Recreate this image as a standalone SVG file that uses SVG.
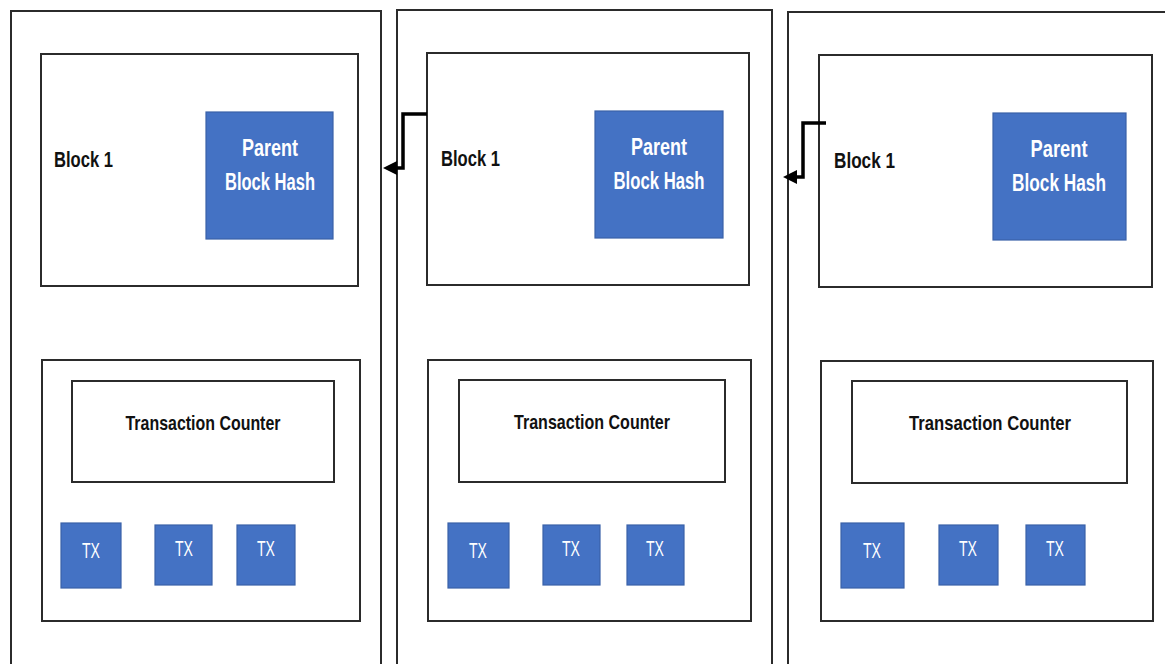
<svg xmlns="http://www.w3.org/2000/svg" width="1165" height="664" viewBox="0 0 1165 664">
<style>
.frame{fill:#fff;stroke:#2b2b2b;stroke-width:2}
.blue{fill:#4472C4;stroke:#3a62a8;stroke-width:1.2}
.lbl{font-family:"Liberation Sans",Arial,sans-serif;font-weight:bold;font-size:22px;fill:#111}
.cnt{font-family:"Liberation Sans",Arial,sans-serif;font-weight:bold;font-size:21px;fill:#111;text-anchor:middle}
.wl{font-family:"Liberation Sans",Arial,sans-serif;font-weight:bold;font-size:23px;fill:#fff;text-anchor:middle}
.tx{font-family:"Liberation Sans",Arial,sans-serif;font-size:22px;fill:#fff;text-anchor:middle}
.conn{fill:none;stroke:#000;stroke-width:3.5}
</style>
<rect width="1165" height="664" fill="#fff"/>

<g id="column1">
<rect class="frame" x="11" y="11" width="370" height="670"/>
<g id="header1">
<rect class="frame" x="41" y="54" width="317" height="232"/>
<text class="lbl" x="54" y="167" textLength="59" lengthAdjust="spacingAndGlyphs">Block 1</text>
</g>
<g id="parent1">
<rect class="blue" x="206" y="112" width="127" height="127"/>
<text class="wl" x="270" y="156" textLength="56" lengthAdjust="spacingAndGlyphs">Parent</text>
<text class="wl" x="270" y="190" textLength="90" lengthAdjust="spacingAndGlyphs">Block Hash</text>
</g>
<g id="body1">
<rect class="frame" x="42" y="360" width="318" height="261"/>
</g>
<g id="counter1">
<rect class="frame" x="72" y="381" width="262" height="101"/>
<text class="cnt" x="203" y="430" textLength="155" lengthAdjust="spacingAndGlyphs">Transaction Counter</text>
</g>
<g id="tx1a"><rect class="blue" x="61" y="523" width="60" height="65"/><text class="tx" x="91" y="558" textLength="18" lengthAdjust="spacingAndGlyphs">TX</text></g>
<g id="tx1b"><rect class="blue" x="155" y="525" width="57" height="60"/><text class="tx" x="184" y="556" textLength="18" lengthAdjust="spacingAndGlyphs">TX</text></g>
<g id="tx1c"><rect class="blue" x="237" y="525" width="58" height="60"/><text class="tx" x="266" y="556" textLength="18" lengthAdjust="spacingAndGlyphs">TX</text></g>
</g>

<g id="column2">
<rect class="frame" x="397" y="10" width="375" height="670"/>
<g id="header2">
<rect class="frame" x="427" y="53" width="322" height="232"/>
<text class="lbl" x="441" y="166" textLength="59" lengthAdjust="spacingAndGlyphs">Block 1</text>
</g>
<g id="parent2">
<rect class="blue" x="595" y="111" width="128" height="127"/>
<text class="wl" x="659" y="155" textLength="56" lengthAdjust="spacingAndGlyphs">Parent</text>
<text class="wl" x="659" y="189" textLength="91" lengthAdjust="spacingAndGlyphs">Block Hash</text>
</g>
<g id="body2">
<rect class="frame" x="428" y="360" width="323" height="261"/>
</g>
<g id="counter2">
<rect class="frame" x="459" y="380" width="266" height="102"/>
<text class="cnt" x="592" y="429" textLength="156" lengthAdjust="spacingAndGlyphs">Transaction Counter</text>
</g>
<g id="tx2a"><rect class="blue" x="448" y="523" width="61" height="65"/><text class="tx" x="478" y="558" textLength="18" lengthAdjust="spacingAndGlyphs">TX</text></g>
<g id="tx2b"><rect class="blue" x="543" y="525" width="57" height="60"/><text class="tx" x="571" y="556" textLength="18" lengthAdjust="spacingAndGlyphs">TX</text></g>
<g id="tx2c"><rect class="blue" x="627" y="525" width="57" height="60"/><text class="tx" x="655" y="556" textLength="18" lengthAdjust="spacingAndGlyphs">TX</text></g>
</g>

<g id="column3">
<rect class="frame" x="788" y="12" width="400" height="670"/>
<g id="header3">
<rect class="frame" x="819" y="55" width="333" height="232"/>
<text class="lbl" x="834" y="168" textLength="61" lengthAdjust="spacingAndGlyphs">Block 1</text>
</g>
<g id="parent3">
<rect class="blue" x="993" y="113" width="133" height="127"/>
<text class="wl" x="1059" y="157" textLength="57" lengthAdjust="spacingAndGlyphs">Parent</text>
<text class="wl" x="1059" y="191" textLength="94" lengthAdjust="spacingAndGlyphs">Block Hash</text>
</g>
<g id="body3">
<rect class="frame" x="821" y="361" width="332" height="260"/>
</g>
<g id="counter3">
<rect class="frame" x="852" y="381" width="275" height="102"/>
<text class="cnt" x="990" y="430" textLength="162" lengthAdjust="spacingAndGlyphs">Transaction Counter</text>
</g>
<g id="tx3a"><rect class="blue" x="841" y="523" width="63" height="65"/><text class="tx" x="872" y="558" textLength="18" lengthAdjust="spacingAndGlyphs">TX</text></g>
<g id="tx3b"><rect class="blue" x="939" y="525" width="59" height="60"/><text class="tx" x="968" y="556" textLength="18" lengthAdjust="spacingAndGlyphs">TX</text></g>
<g id="tx3c"><rect class="blue" x="1026" y="525" width="59" height="60"/><text class="tx" x="1055" y="556" textLength="18" lengthAdjust="spacingAndGlyphs">TX</text></g>
</g>

<g id="connectors">
<path class="conn" d="M427,114 H403 V168 H397"/>
<path d="M397,161 L383,168 L397,175 z" fill="#000"/>
<path class="conn" d="M826,123 H803 V177 H797"/>
<path d="M797,170 L783,177 L797,184 z" fill="#000"/>
</g>
</svg>
